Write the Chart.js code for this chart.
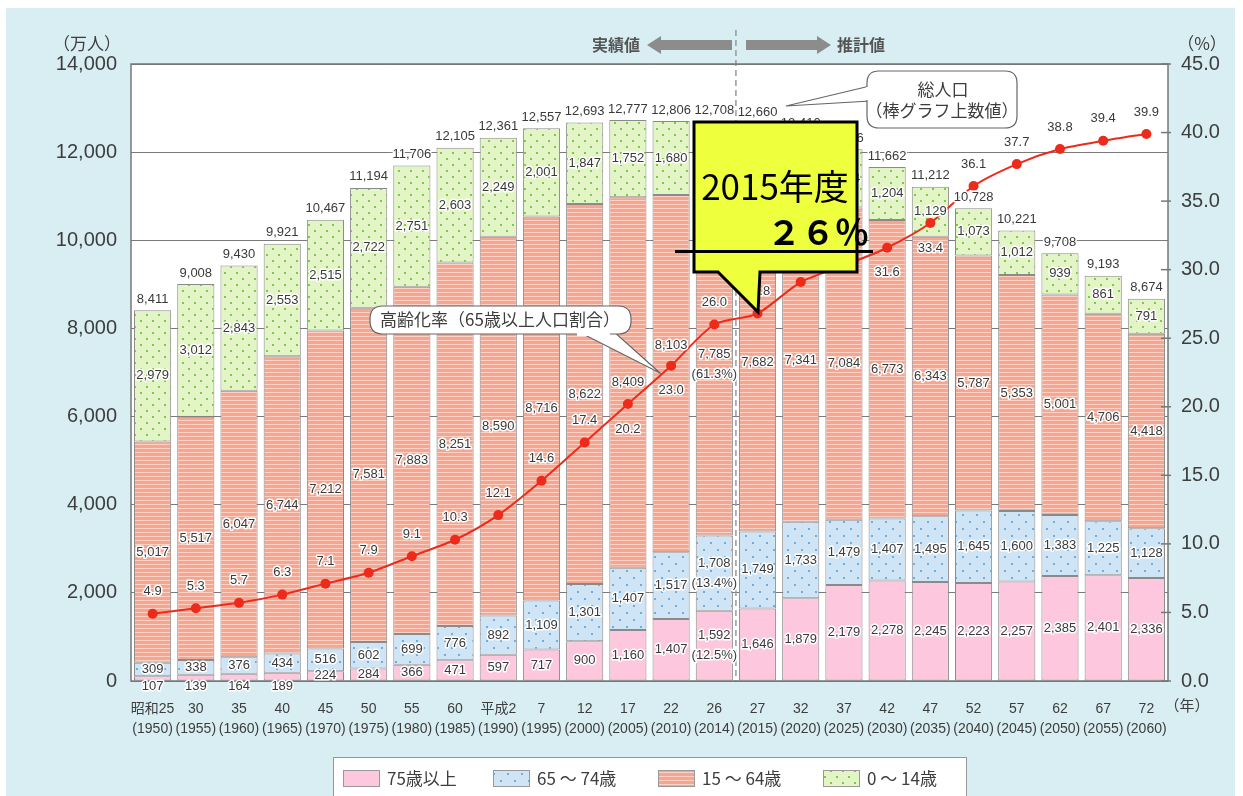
<!DOCTYPE html>
<html lang="ja">
<head>
<meta charset="utf-8">
<script src="https://cdn.jsdelivr.net/npm/chart.js@4.4.1/dist/chart.umd.min.js"></script>
<style>
  html, body { margin: 0; padding: 0; background: #fff; }
  #wrap { width: 1243px; height: 796px; }
</style>
</head>
<body>
<div id="wrap"><canvas id="popChart" width="1243" height="796"></canvas></div>
<script>
// 年次ラベル（和暦・西暦）
const eraLabels = ['昭和25', '30', '35', '40', '45', '50', '55', '60', '平成2', '7', '12', '17', '22', '26',
                   '27', '32', '37', '42', '47', '52', '57', '62', '67', '72'];
const yearLabels = ['(1950)', '(1955)', '(1960)', '(1965)', '(1970)', '(1975)', '(1980)', '(1985)', '(1990)', '(1995)',
                    '(2000)', '(2005)', '(2010)', '(2014)', '(2015)', '(2020)', '(2025)', '(2030)', '(2035)', '(2040)',
                    '(2045)', '(2050)', '(2055)', '(2060)'];

// 年齢区分別人口（万人）
const age75plus = [107, 139, 164, 189, 224, 284, 366, 471, 597, 717, 900, 1160, 1407, 1592,
                   1646, 1879, 2179, 2278, 2245, 2223, 2257, 2385, 2401, 2336];
const age65to74 = [309, 338, 376, 434, 516, 602, 699, 776, 892, 1109, 1301, 1407, 1517, 1708,
                   1749, 1733, 1479, 1407, 1495, 1645, 1600, 1383, 1225, 1128];
const age15to64 = [5017, 5517, 6047, 6744, 7212, 7581, 7883, 8251, 8590, 8716, 8622, 8409, 8103, 7785,
                   7682, 7341, 7084, 6773, 6343, 5787, 5353, 5001, 4706, 4418];
const age0to14 = [2979, 3012, 2843, 2553, 2515, 2722, 2751, 2603, 2249, 2001, 1847, 1752, 1680, 1623,
                  1583, 1457, 1324, 1204, 1129, 1073, 1012, 939, 861, 791];
const totalPop = [8411, 9008, 9430, 9921, 10467, 11194, 11706, 12105, 12361, 12557, 12693, 12777, 12806, 12708,
                  12660, 12410, 12066, 11662, 11212, 10728, 10221, 9708, 9193, 8674];
// 高齢化率（%）
const agingRate = [4.9, 5.3, 5.7, 6.3, 7.1, 7.9, 9.1, 10.3, 12.1, 14.6, 17.4, 20.2, 23.0, 26.0,
                   26.8, 29.1, 30.3, 31.6, 33.4, 36.1, 37.7, 38.8, 39.4, 39.9];
// 平成26年の構成比（75歳以上, 65～74歳, 15～64歳）
const share2014 = ['(12.5%)', '(13.4%)', '(61.3%)', null];
const share2014Index = 13;

const seriesNames = ['75歳以上', '65 ～ 74歳', '15 ～ 64歳', '0 ～ 14歳'];

const FONT = '"Liberation Sans", "Noto Sans CJK JP", sans-serif';
const JP = '"Noto Sans CJK JP", sans-serif';
const TXT = '#3d3d3d';

const canvas = document.getElementById('popChart');
const ctx = canvas.getContext('2d');

// 模様（ドット・横縞）
function makePattern(w, h, bg, draw) {
    const t = document.createElement('canvas');
    t.width = w; t.height = h;
    const g = t.getContext('2d');
    g.fillStyle = bg;
    g.fillRect(0, 0, w, h);
    draw(g);
    return ctx.createPattern(t, 'repeat');
}
const fillPink = '#fdc8dd';
const fillBlue = makePattern(14, 14, '#cfe4f4', g => {
    g.fillStyle = '#6aaee2';
    g.fillRect(3, 3, 2, 2);
    g.fillRect(10, 10, 2, 2);
});
const fillSalmon = makePattern(4, 4, '#f8a58f', g => {
    g.fillStyle = '#fcd2c6';
    g.fillRect(0, 0, 4, 1);
});
const fillGreen = makePattern(12, 12, '#e3f4c6', g => {
    g.fillStyle = '#7cc942';
    g.fillRect(2, 2, 2, 2);
    g.fillRect(8, 8, 2, 2);
});
const barFills = [fillPink, fillBlue, fillSalmon, fillGreen];

function haloText(c, text, x, y, font, color) {
    c.font = font;
    c.textAlign = 'center';
    c.textBaseline = 'middle';
    c.lineJoin = 'round';
    c.strokeStyle = '#fff';
    c.lineWidth = 3;
    c.strokeText(text, x, y);
    c.fillStyle = color || '#3a3a3a';
    c.fillText(text, x, y);
}

function roundRect(c, x, y, w, h, r) {
    c.beginPath();
    c.moveTo(x + r, y);
    c.lineTo(x + w - r, y);
    c.quadraticCurveTo(x + w, y, x + w, y + r);
    c.lineTo(x + w, y + h - r);
    c.quadraticCurveTo(x + w, y + h, x + w - r, y + h);
    c.lineTo(x + r, y + h);
    c.quadraticCurveTo(x, y + h, x, y + h - r);
    c.lineTo(x, y + r);
    c.quadraticCurveTo(x, y, x + r, y);
    c.closePath();
}

const decorPlugin = {
    id: 'decor',
    beforeDraw(chart) {
        const c = chart.ctx, a = chart.chartArea;
        c.save();
        c.fillStyle = '#fff';
        c.fillRect(0, 0, chart.width, chart.height);
        c.fillStyle = '#d9eef2';
        c.fillRect(6, 8, 1229, 788);
        c.fillStyle = '#fff';
        c.fillRect(a.left, a.top, a.right - a.left, a.bottom - a.top);
        c.restore();
    },
    beforeDatasetsDraw(chart) {
        // 実績値／推計値の境界線
        const c = chart.ctx, x = chart.scales.x;
        const xb = (x.getPixelForValue(13) + x.getPixelForValue(14)) / 2;
        c.save();
        c.strokeStyle = '#999';
        c.lineWidth = 1.5;
        c.setLineDash([6, 4]);
        c.beginPath();
        c.moveTo(xb, 30);
        c.lineTo(xb, chart.chartArea.bottom);
        c.stroke();
        c.restore();
    },
    afterDatasetsDraw(chart) {
        const c = chart.ctx, a = chart.chartArea;
        c.save();
        // 枠
        c.strokeStyle = '#777';
        c.lineWidth = 1.5;
        c.strokeRect(a.left, a.top, a.right - a.left, a.bottom - a.top);
        // 右軸の目盛り
        const y1 = chart.scales.y1;
        y1.ticks.forEach(t => {
            const py = y1.getPixelForValue(t.value);
            c.beginPath();
            c.moveTo(a.right - 7, py);
            c.lineTo(a.right + 3, py);
            c.stroke();
        });

        // 棒の各区分の数値
        const segFont = '13px ' + FONT;
        for (let di = 0; di < 4; di++) {
            const meta = chart.getDatasetMeta(di);
            const vals = chart.data.datasets[di].data;
            meta.data.forEach((el, i) => {
                const h = el.base - el.y;
                let cy = (el.y + el.base) / 2;
                if (h < 8) cy = el.base + 6;
                if (di === 2 && i === 12) cy -= 28;
                const txt = vals[i].toLocaleString('en-US');
                if (i === share2014Index && share2014[di]) {
                    haloText(c, txt, el.x, cy - 10, segFont);
                    haloText(c, share2014[di], el.x, cy + 10, segFont);
                } else {
                    haloText(c, txt, el.x, cy, segFont);
                }
            });
        }
        // 総人口
        const topMeta = chart.getDatasetMeta(3);
        topMeta.data.forEach((el, i) => {
            haloText(c, totalPop[i].toLocaleString('en-US'), el.x, el.y - 11, segFont);
        });
        // 高齢化率
        const below = new Set([11, 12, 17, 18]);
        const lineMeta = chart.getDatasetMeta(4);
        lineMeta.data.forEach((el, i) => {
            const dy = below.has(i) ? 25 : -22;
            haloText(c, agingRate[i].toFixed(1), el.x, el.y + dy, segFont);
        });
        c.restore();
    },
    afterDraw(chart) {
        const c = chart.ctx;
        c.save();

        // 見出し：実績値 ← → 推計値
        c.fillStyle = '#8c8c8c';
        c.beginPath();
        c.moveTo(647, 45); c.lineTo(661, 36); c.lineTo(661, 40); c.lineTo(732, 40);
        c.lineTo(732, 50); c.lineTo(661, 50); c.lineTo(661, 54); c.closePath();
        c.fill();
        c.beginPath();
        c.moveTo(831, 45); c.lineTo(817, 36); c.lineTo(817, 40); c.lineTo(746, 40);
        c.lineTo(746, 50); c.lineTo(817, 50); c.lineTo(817, 54); c.closePath();
        c.fill();
        c.fillStyle = '#555';
        c.font = 'bold 16px ' + JP;
        c.textAlign = 'center';
        c.textBaseline = 'middle';
        c.fillText('実績値', 616, 45);
        c.fillText('推計値', 861, 45);

        // 軸タイトル
        c.fillStyle = TXT;
        c.font = '17px ' + JP;
        c.fillText('（万人）', 87, 44);
        c.fillText('（%）', 1202, 44);
        c.font = '15px ' + JP;
        c.fillText('（年）', 1187, 705);

        // 総人口の吹き出し
        c.strokeStyle = '#666';
        c.lineWidth = 1.2;
        c.fillStyle = '#fff';
        c.beginPath();
        c.moveTo(870, 86); c.lineTo(786, 106); c.lineTo(870, 101);
        c.closePath();
        c.fill(); c.stroke();
        roundRect(c, 867, 71, 150, 57, 12);
        c.fill(); c.stroke();
        c.fillStyle = '#fff';
        c.fillRect(866, 87, 6, 13);
        c.fillStyle = TXT;
        c.font = '17px ' + JP;
        c.fillText('総人口', 943, 90);
        c.fillText('（棒グラフ上数値）', 942, 111);

        // 高齢化率の吹き出し
        c.fillStyle = '#fff';
        c.beginPath();
        c.moveTo(575, 330); c.lineTo(660, 373); c.lineTo(612, 330);
        c.closePath();
        c.fill(); c.stroke();
        roundRect(c, 370, 306, 261, 28, 13);
        c.fill(); c.stroke();
        c.fillStyle = '#fff';
        c.fillRect(577, 330, 33, 6);
        c.fillStyle = TXT;
        c.fillText('高齢化率（65歳以上人口割合）', 500, 320);

        // 黄色の吹き出し
        c.fillStyle = '#eeff3e';
        c.strokeStyle = '#000';
        c.lineWidth = 3;
        c.lineJoin = 'miter';
        c.beginPath();
        c.moveTo(694, 122); c.lineTo(857, 122); c.lineTo(857, 272);
        c.lineTo(760, 272); c.lineTo(758, 312); c.lineTo(718, 272);
        c.lineTo(694, 272); c.closePath();
        c.fill(); c.stroke();
        c.fillStyle = '#000';
        c.font = '35px ' + JP;
        c.textAlign = 'center';
        c.fillText('2015年度', 775, 187);
        c.font = 'bold 34px ' + JP;
        c.fillText('２６％', 818, 232);
        c.fillRect(675, 250, 198, 3);

        // 凡例
        c.fillStyle = '#fff';
        c.strokeStyle = '#999';
        c.lineWidth = 1;
        c.fillRect(333, 757, 633, 45);
        c.strokeRect(333.5, 757.5, 633, 45);
        const swX = [343, 493, 658, 823];
        c.font = '17px ' + JP;
        c.textAlign = 'left';
        for (let k = 0; k < 4; k++) {
            c.fillStyle = barFills[k];
            c.fillRect(swX[k], 770, 37, 17);
            c.strokeStyle = '#999';
            c.strokeRect(swX[k] + 0.5, 770.5, 36, 16);
            c.fillStyle = TXT;
            c.fillText(chart.data.datasets[k].label, swX[k] + 44, 779);
        }
        c.restore();
    }
};

const barStyle = {
    type: 'bar',
    borderColor: '#8a8a8a',
    borderWidth: 1,
    borderSkipped: false,
    barPercentage: 0.86,
    categoryPercentage: 1.0,
    stack: 'pop',
    yAxisID: 'y',
    order: 1
};

new Chart(ctx, {
    type: 'bar',
    data: {
        labels: eraLabels.map((e, i) => [e, yearLabels[i]]),
        datasets: [
            Object.assign({ label: seriesNames[0], data: age75plus, backgroundColor: barFills[0] }, barStyle),
            Object.assign({ label: seriesNames[1], data: age65to74, backgroundColor: barFills[1] }, barStyle),
            Object.assign({ label: seriesNames[2], data: age15to64, backgroundColor: barFills[2] }, barStyle),
            Object.assign({ label: seriesNames[3], data: age0to14, backgroundColor: barFills[3] }, barStyle),
            {
                type: 'line',
                label: '高齢化率',
                data: agingRate,
                yAxisID: 'y1',
                borderColor: '#ee2a1b',
                backgroundColor: '#ee2a1b',
                borderWidth: 2,
                pointRadius: 5,
                pointBackgroundColor: '#ee2a1b',
                pointBorderWidth: 0,
                tension: 0.25,
                order: 0
            }
        ]
    },
    options: {
        responsive: false,
        animation: false,
        devicePixelRatio: 1,
        layout: { padding: { top: 64, left: 0, right: 0, bottom: 0 } },
        scales: {
            x: {
                stacked: true,
                grid: { display: false },
                border: { display: false },
                ticks: {
                    color: TXT,
                    font: { family: FONT, size: 14, lineHeight: 1.45 },
                    padding: 10,
                    maxRotation: 0,
                    autoSkip: false
                },
                afterFit(s) { s.height = 115; }
            },
            y: {
                stacked: true,
                position: 'left',
                min: 0,
                max: 14000,
                grid: { color: '#7a7a7a', lineWidth: 1, drawTicks: false },
                border: { display: false },
                ticks: {
                    stepSize: 2000,
                    color: TXT,
                    padding: 14,
                    font: { family: FONT, size: 20 },
                    callback: v => v.toLocaleString('en-US')
                },
                afterFit(s) { s.width = 131; }
            },
            y1: {
                position: 'right',
                min: 0,
                max: 45,
                grid: { drawOnChartArea: false, drawTicks: false },
                border: { display: false },
                ticks: {
                    stepSize: 5,
                    color: TXT,
                    padding: 13,
                    font: { family: FONT, size: 20 },
                    callback: v => v.toFixed(1)
                },
                afterFit(s) { s.width = 75; }
            }
        },
        plugins: {
            legend: { display: false },
            tooltip: { enabled: false }
        }
    },
    plugins: [decorPlugin]
});
</script>
</body>
</html>
